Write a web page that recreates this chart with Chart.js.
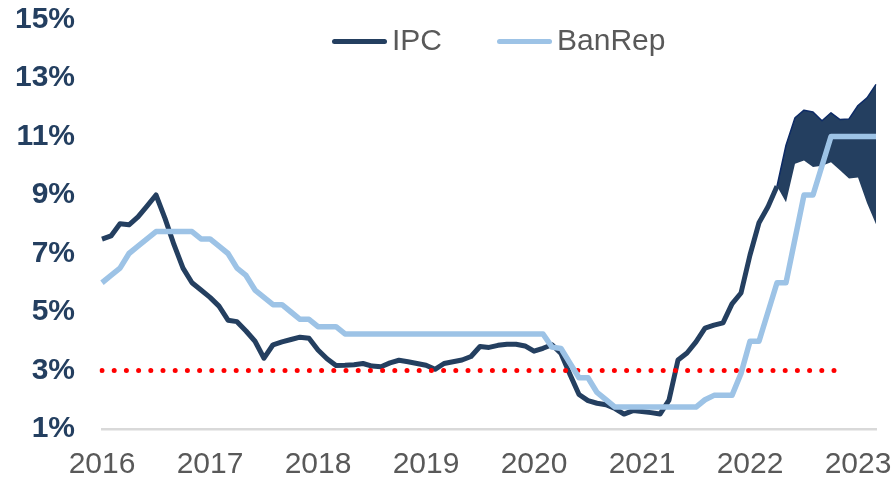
<!DOCTYPE html>
<html lang="es">
<head>
<meta charset="utf-8">
<title>IPC vs tasa BanRep</title>
<script src="https://cdn.jsdelivr.net/npm/chart.js@4.4.1/dist/chart.umd.min.js"></script>
<style>
  html, body { margin: 0; padding: 0; background: #fff; }
  #contenedor { position: relative; width: 891px; height: 483px; }
</style>
</head>
<body>
<div id="contenedor"><canvas id="grafico"></canvas></div>
<script>
const anios = ['2016', '2017', '2018', '2019', '2020', '2021', '2022', '2023'];

// meses ene-2016 .. mar-2023
const meses = [];
for (let k = 0; k < 87; k++) {
    meses.push(anios[Math.floor(k / 12)] + '-' + String(k % 12 + 1).padStart(2, '0'));
}

// inflación anual (%), hasta abr-2022
const ipc = [
    7.49, 7.6, 8.02, 7.98, 8.25, 8.62, 9.0, 8.2, 7.3, 6.5, 6.0, 5.75,
    5.5, 5.2, 4.72, 4.67, 4.35, 4.0, 3.42, 3.88, 3.98, 4.06, 4.14, 4.1,
    3.7, 3.4, 3.17, 3.18, 3.2, 3.24, 3.15, 3.13, 3.26, 3.35, 3.3, 3.24,
    3.18, 3.04, 3.24, 3.3, 3.36, 3.48, 3.82, 3.79, 3.86, 3.9, 3.9, 3.84,
    3.66, 3.76, 3.88, 3.58, 2.86, 2.18, 1.97, 1.88, 1.83, 1.7, 1.51, 1.63,
    1.6, 1.56, 1.51, 1.99, 3.36, 3.6, 3.98, 4.45, 4.55, 4.63, 5.28, 5.65,
    6.95, 8.05, 8.6, 9.3
];

// tasa de política monetaria (%)
const banrep = [
    6.0, 6.25, 6.5, 7.0, 7.25, 7.5, 7.75, 7.75, 7.75, 7.75, 7.75, 7.5,
    7.5, 7.25, 7.0, 6.5, 6.25, 5.75, 5.5, 5.25, 5.25, 5.0, 4.75, 4.75,
    4.5, 4.5, 4.5, 4.25, 4.25, 4.25, 4.25, 4.25, 4.25, 4.25, 4.25, 4.25,
    4.25, 4.25, 4.25, 4.25, 4.25, 4.25, 4.25, 4.25, 4.25, 4.25, 4.25, 4.25,
    4.25, 4.25, 3.8, 3.75, 3.25, 2.75, 2.75, 2.25, 2.0, 1.75, 1.75, 1.75,
    1.75, 1.75, 1.75, 1.75, 1.75, 1.75, 1.75, 2.0, 2.15, 2.15, 2.15, 2.9,
    4.0, 4.0, 5.0, 6.0, 6.0, 7.5, 9.0, 9.0, 10.0, 11.0, 11.0, 11.0,
    11.0, 11.0, 11.0
];

// banda de pronóstico del IPC, desde abr-2022
const inicioBanda = 75;
const bandaSup = [9.3, 10.7, 11.64, 11.9, 11.84, 11.54, 11.81, 11.58, 11.6, 12.06, 12.32, 12.78];
const bandaInf = [9.3, 8.75, 10.07, 10.18, 9.96, 10.0, 10.12, 9.85, 9.56, 9.6, 8.73, 8.0];

// meta de inflación
const meta = 3;
const metaDesde = '2016-01';
const metaHasta = '2022-11';

const fuente = "'Liberation Sans', Arial, sans-serif";

const enFechas = (valores, desde) => valores.map((v, k) => ({ x: meses[desde + k], y: v }));

// leyenda dibujada a mano para dejarla dentro del área del gráfico
const leyenda = {
    id: 'leyenda',
    afterDraw(chart) {
        const ctx = chart.ctx;
        let x = 332;
        const y = 41.5;
        ctx.save();
        ctx.font = '30px ' + fuente;
        ctx.textBaseline = 'middle';
        chart.data.datasets.filter(d => d.enLeyenda).forEach(d => {
            ctx.strokeStyle = d.borderColor;
            ctx.lineWidth = 5;
            ctx.lineCap = 'round';
            ctx.beginPath();
            ctx.moveTo(x + 2.5, y);
            ctx.lineTo(x + 52.5, y);
            ctx.stroke();
            ctx.fillStyle = '#595959';
            ctx.fillText(d.label, x + 60, y);
            x += 60 + ctx.measureText(d.label).width + 55;
        });
        ctx.restore();
    }
};

new Chart(document.getElementById('grafico'), {
    type: 'line',
    data: {
        labels: meses,
        datasets: [
            {
                label: 'IPC',
                data: ipc,
                borderColor: '#243F60',
                borderWidth: 5,
                order: 2,
                enLeyenda: true
            },
            {
                label: 'BanRep',
                data: banrep,
                borderColor: '#9DC3E6',
                borderWidth: 5.5,
                order: 0,
                enLeyenda: true
            },
            {
                label: 'Meta',
                data: [{ x: metaDesde, y: meta }, { x: metaHasta, y: meta }],
                borderColor: '#FF0000',
                borderWidth: 5,
                borderDash: [0, 12.2],
                borderCapStyle: 'round',
                order: 1
            },
            {
                label: 'Banda superior',
                data: enFechas(bandaSup, inicioBanda),
                borderColor: '#0D2B66',
                borderWidth: 1.5,
                backgroundColor: '#243F60',
                fill: '+1',
                order: 3
            },
            {
                label: 'Banda inferior',
                data: enFechas(bandaInf, inicioBanda),
                borderColor: '#243F60',
                borderWidth: 0,
                order: 3
            }
        ]
    },
    options: {
        responsive: true,
        maintainAspectRatio: false,
        animation: false,
        layout: { padding: { top: 19.5, right: 15, bottom: 0, left: 0 } },
        elements: {
            point: { radius: 0 },
            line: { tension: 0, borderJoinStyle: 'round' }
        },
        plugins: {
            legend: { display: false },
            tooltip: { enabled: false }
        },
        scales: {
            x: {
                grid: { display: false, drawTicks: false },
                border: { display: true, color: '#D9D9D9', width: 2.5 },
                ticks: {
                    autoSkip: false,
                    maxRotation: 0,
                    padding: 21,
                    color: '#595959',
                    font: { family: fuente, size: 30, lineHeight: 1 },
                    callback: (valor, i) => (i % 12 === 0 ? anios[i / 12] : '')
                },
                afterFit: (escala) => {
                    escala.height = 54;
                    escala.paddingLeft = 0;
                    escala.paddingRight = 0;
                }
            },
            y: {
                min: 1,
                max: 15,
                grid: { display: false, drawTicks: false },
                border: { display: false },
                ticks: {
                    stepSize: 2,
                    padding: 27,
                    color: '#243F60',
                    font: { family: fuente, size: 30, weight: 'bold', lineHeight: 1 },
                    callback: (valor) => valor + '%'
                },
                afterFit: (escala) => {
                    escala.width = 102;
                    escala.paddingTop = 0;
                    escala.paddingBottom = 0;
                }
            }
        }
    },
    plugins: [leyenda]
});
</script>
</body>
</html>
